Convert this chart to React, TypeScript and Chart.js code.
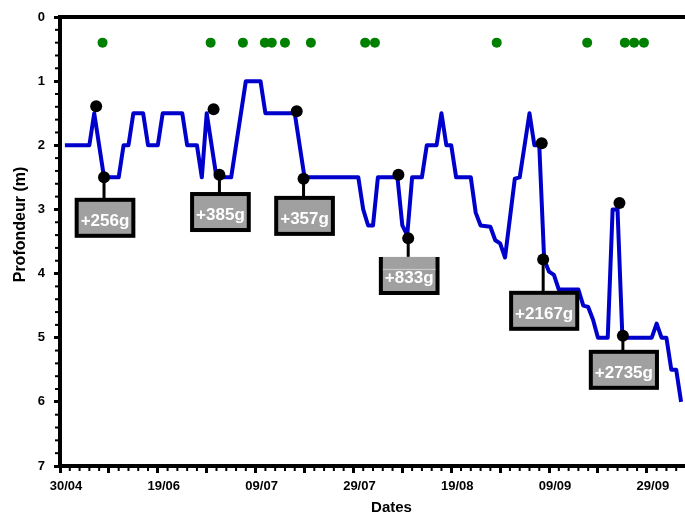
import React, { useEffect, useRef } from "react";
import { Chart, registerables } from "chart.js";

Chart.register(...registerables);

// ---- data ----
const xTickLabels = ["30/04", "19/06", "09/07", "29/07", "19/08", "09/09", "29/09"];

const lineDays = [1, 6, 7, 9, 12, 13, 14, 15, 17, 18, 20, 21, 25, 26, 28, 29, 30, 32, 35, 38, 41, 42, 48, 50, 61, 62, 63, 64, 65, 69, 70, 71, 72, 74, 75, 77, 78, 79, 80, 81, 84, 85, 86, 88, 89, 90, 91, 93, 94, 95, 96, 97, 98, 99, 100, 101, 102, 106, 107, 108, 109, 110, 112, 113, 114, 115, 121, 122, 123, 124, 125, 126, 127];
const lineDepths = [2.0, 2.0, 1.5, 2.5, 2.5, 2.0, 2.0, 1.5, 1.5, 2.0, 2.0, 1.5, 1.5, 2.0, 2.0, 2.5, 1.5, 2.5, 2.5, 1.0, 1.0, 1.5, 1.5, 2.5, 2.5, 3.0, 3.25, 3.25, 2.5, 2.5, 3.25, 3.4, 2.5, 2.5, 2.0, 2.0, 1.5, 2.0, 2.0, 2.5, 2.5, 3.05, 3.25, 3.27, 3.48, 3.53, 3.75, 2.52, 2.5, 2.0, 1.5, 2.0, 2.0, 3.78, 3.97, 4.02, 4.25, 4.25, 4.5, 4.52, 4.72, 5.0, 5.0, 3.0, 3.0, 5.0, 5.0, 4.78, 5.0, 5.0, 5.5, 5.5, 6.0];

const greenDays = [8.7, 30.8, 37.4, 41.9, 43.3, 46, 51.3, 62.4, 64.4, 89.3, 107.8, 115.5, 117.4, 119.4];
const greenDepths = [0.4, 0.4, 0.4, 0.4, 0.4, 0.4, 0.4, 0.4, 0.4, 0.4, 0.4, 0.4, 0.4, 0.4];

const eventTopDays = [7.4, 31.4, 48.4, 69.2, 98.5, 114.4];
const eventTopDepths = [1.39, 1.44, 1.47, 2.46, 1.97, 2.9];
const eventBottomDays = [9.0, 32.6, 49.8, 71.2, 98.8, 115.1];
const eventBottomDepths = [2.5, 2.46, 2.52, 3.45, 3.78, 4.97];
const eventBoxDepths = [2.85, 2.76, 2.82, 3.74, 4.3, 5.22];
const eventLabels = ["+256g", "+385g", "+357g", "+833g", "+2167g", "+2735g"];
const eventOpenTop = [false, false, false, true, false, false];

const FONT = "Arial, 'Liberation Sans', sans-serif";

const decorPlugin = {
  id: "decor",
  beforeDatasetsDraw(chart: any) {
    const { ctx, scales } = chart;
    const xs = scales.x;
    const ys = scales.y;
    ctx.save();
    ctx.strokeStyle = "#000";
    ctx.lineWidth = 3;
    for (let i = 0; i < eventLabels.length; i++) {
      const x = xs.getPixelForValue(eventBottomDays[i]);
      const y1 = ys.getPixelForValue(eventBottomDepths[i]);
      const y2 = ys.getPixelForValue(eventBoxDepths[i]);
      ctx.beginPath();
      ctx.moveTo(x, y1);
      ctx.lineTo(x, y2);
      ctx.stroke();
    }
    ctx.restore();
  },
  afterDatasetsDraw(chart: any) {
    const { ctx, scales, chartArea } = chart;
    const xs = scales.x;
    const ys = scales.y;
    ctx.save();
    // top border
    ctx.fillStyle = "#000";
    ctx.fillRect(chartArea.left - 2, chartArea.top - 2, chartArea.right - chartArea.left + 2, 4);
    // minor ticks x
    for (let d = 2; d < xs.max; d += 2) {
      if (d % 10 === 0) continue;
      const px = xs.getPixelForValue(d);
      ctx.fillRect(px - 1, chartArea.bottom + 2, 2, 3);
    }
    // minor ticks y
    for (let k = 1; k < 35; k++) {
      if (k % 5 === 0) continue;
      const py = ys.getPixelForValue(k * 0.2);
      ctx.fillRect(chartArea.left - 5, py - 1, 3, 2);
    }
    // boxes
    ctx.font = `bold 17px ${FONT}`;
    ctx.textAlign = "center";
    ctx.textBaseline = "alphabetic";
    for (let i = 0; i < eventLabels.length; i++) {
      const cx = xs.getPixelForValue(eventBottomDays[i]) + 1;
      const top = ys.getPixelForValue(eventBoxDepths[i]);
      const tw = ctx.measureText(eventLabels[i]).width;
      const w = tw + 8;
      const h = 36;
      const left = cx - w / 2;
      ctx.fillStyle = "#a0a0a0";
      ctx.fillRect(left, top, w, h);
      ctx.strokeStyle = "#000";
      ctx.lineWidth = 4;
      ctx.lineJoin = "miter";
      if (eventOpenTop[i]) {
        ctx.beginPath();
        ctx.moveTo(left, top);
        ctx.lineTo(left, top + h);
        ctx.lineTo(left + w, top + h);
        ctx.lineTo(left + w, top);
        ctx.stroke();
        ctx.fillStyle = "#d0d0d0";
        ctx.fillRect(left + 2, top + 12, w - 4, 1);
      } else {
        ctx.strokeRect(left, top, w, h);
      }
      ctx.fillStyle = "#fff";
      ctx.fillText(eventLabels[i], cx, top + 26);
    }
    // axis titles
    ctx.fillStyle = "#000";
    ctx.font = `bold 16px ${FONT}`;
    ctx.textAlign = "center";
    ctx.textBaseline = "middle";
    ctx.save();
    ctx.translate(21, (chartArea.top + chartArea.bottom) / 2 - 17);
    ctx.rotate(-Math.PI / 2);
    ctx.fillText("Profondeur (m)", 0, 0);
    ctx.restore();
    ctx.font = `bold 15px ${FONT}`;
    ctx.textBaseline = "alphabetic";
    ctx.fillText("Dates", (chartArea.left + chartArea.right) / 2 + 19, 512);
    ctx.restore();
  },
};

export default function App() {
  const ref = useRef<HTMLCanvasElement | null>(null);
  useEffect(() => {
    document.body.style.margin = "0";
    const canvas = ref.current;
    if (!canvas) return;
    const chart = new Chart(canvas, {
      type: "scatter",
      data: {
        datasets: [
          {
            label: "events",
            data: [
              ...eventTopDays.map((d, i) => ({ x: d, y: eventTopDepths[i] })),
              ...eventBottomDays.map((d, i) => ({ x: d, y: eventBottomDepths[i] })),
            ],
            pointRadius: 6,
            pointBackgroundColor: "#000",
            pointBorderColor: "#000",
            pointBorderWidth: 0,
            showLine: false,
          },
          {
            label: "samples",
            data: greenDays.map((d, i) => ({ x: d, y: greenDepths[i] })),
            pointRadius: 5,
            pointBackgroundColor: "#008000",
            pointBorderColor: "#008000",
            pointBorderWidth: 0,
            showLine: false,
          },
          {
            label: "depth",
            data: lineDays.map((d, i) => ({ x: d, y: lineDepths[i] })),
            showLine: true,
            borderColor: "#0000cc",
            borderWidth: 4,
            borderJoinStyle: "round",
            pointRadius: 0,
            tension: 0,
            fill: false,
          },
        ],
      } as any,
      options: {
        responsive: false,
        animation: false,
        devicePixelRatio: 1,
        layout: { autoPadding: false, padding: { top: 17, left: 0, right: 0, bottom: 0 } },
        plugins: { legend: { display: false }, tooltip: { enabled: false } },
        scales: {
          x: {
            type: "linear",
            position: "bottom",
            min: 0,
            max: 127.8,
            afterFit: (s: any) => {
              s.height = 46;
              s.paddingLeft = 0;
              s.paddingRight = 0;
            },
            ticks: {
              stepSize: 10,
              includeBounds: false,
              autoSkip: false,
              maxRotation: 0,
              labelOffset: 6,
              padding: 6,
              color: "#000",
              font: { family: FONT, size: 13, weight: "bold" },
              callback: (v: any) => {
                const n = Number(v);
                if (n % 20 !== 0) return "";
                return xTickLabels[n / 20] ?? "";
              },
            },
            grid: { display: true, drawOnChartArea: false, drawTicks: true, tickLength: 7, tickWidth: 3, tickColor: "#000", color: "#000" },
            border: { display: true, color: "#000", width: 4 },
          },
          y: {
            type: "linear",
            reverse: true,
            min: 0,
            max: 7,
            afterFit: (s: any) => {
              s.width = 60;
              s.paddingTop = 0;
              s.paddingBottom = 0;
            },
            ticks: {
              stepSize: 1,
              padding: 9,
              color: "#000",
              font: { family: FONT, size: 13, weight: "bold" },
            },
            grid: { display: true, drawOnChartArea: false, drawTicks: true, tickLength: 6, tickWidth: 3, tickColor: "#000", color: "#000" },
            border: { display: true, color: "#000", width: 4 },
          },
        },
      } as any,
      plugins: [decorPlugin],
    });
    return () => chart.destroy();
  }, []);
  return (
    <div style={{ width: 685, height: 512 }}>
      <canvas ref={ref} width={685} height={512} />
    </div>
  );
}
